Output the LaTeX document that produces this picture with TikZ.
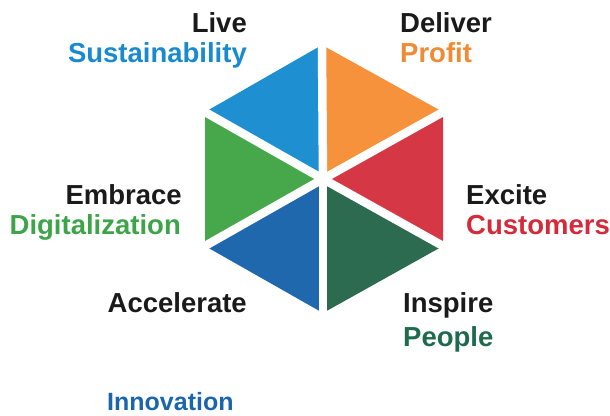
\documentclass[tikz,border=0pt]{standalone}
\usepackage{fontspec}
\setmainfont{Liberation Sans}
\usetikzlibrary{calc}
\definecolor{cblue}{HTML}{1E90D2}
\definecolor{corange}{HTML}{F7923C}
\definecolor{cred}{HTML}{D63744}
\definecolor{cdgreen}{HTML}{2D6B50}
\definecolor{cdblue}{HTML}{1F68AE}
\definecolor{cgreen}{HTML}{46A84B}
\definecolor{tblack}{HTML}{1A1A1A}
\definecolor{tred}{HTML}{D42A3A}
\definecolor{tdgreen}{HTML}{1E6A4C}
\definecolor{tblue}{HTML}{1A8AD0}
\definecolor{tdblue}{HTML}{1A66AE}
\definecolor{tgreen}{HTML}{3EA44A}
\definecolor{torange}{HTML}{F08A34}
\begin{document}
\begin{tikzpicture}[x=1pt,y=-1pt,
  lbl/.style={inner sep=0pt, text=tblack, font=\fontsize{27.5}{30}\selectfont\bfseries},
  gap/.style={white, line width=8.5pt}]
\useasboundingbox (0,0) rectangle (610,415);
\coordinate (C) at (323,179);
\coordinate (T) at (322,45);
\coordinate (UR) at (443,112);
\coordinate (LR) at (443,246);
\coordinate (B) at (323,313);
\coordinate (LL) at (205,246);
\coordinate (UL) at (205,112);
\fill[cblue] (C) -- (UL) -- (T) -- cycle;
\fill[corange] (C) -- (T) -- (UR) -- cycle;
\fill[cred] (C) -- (UR) -- (LR) -- cycle;
\fill[cdgreen] (C) -- (LR) -- (B) -- cycle;
\fill[cdblue] (C) -- (B) -- (LL) -- cycle;
\fill[cgreen] (C) -- (LL) -- (UL) -- cycle;
\foreach \v in {T,UR,LR,B,LL,UL}{
  \draw[gap] (C) -- ($(C)!1.1!(\v)$);
}
\fill[white] (C) circle (7);
\node[lbl, anchor=base east] (live) at (247,32) {Live};
\node[lbl, anchor=base east, text=tblue] (sust) at (247,62) {Sustainability};
\node[lbl, anchor=base west] (deliver) at (400,32) {Deliver};
\node[lbl, anchor=base west, text=torange] (profit) at (400,62) {Profit};
\node[lbl, anchor=base east] (embrace) at (182,204) {Embrace};
\node[lbl, anchor=base east, text=tgreen] (digi) at (181,234) {Digitalization};
\node[lbl, anchor=base west] (excite) at (466,204) {Excite};
\node[lbl, anchor=base west, text=tred] (cust) at (466,234) {Customers};
\node[lbl, anchor=base east] (acc) at (247,312) {Accelerate};
\node[lbl, anchor=base west] (insp) at (403,312) {Inspire};
\node[lbl, anchor=base west, text=tdgreen] (people) at (403,346) {People};
\node[lbl, anchor=base west, text=tdblue, font=\fontsize{25}{28}\selectfont\bfseries] (innov) at (107,410) {Innovation};
\end{tikzpicture}
\end{document}
